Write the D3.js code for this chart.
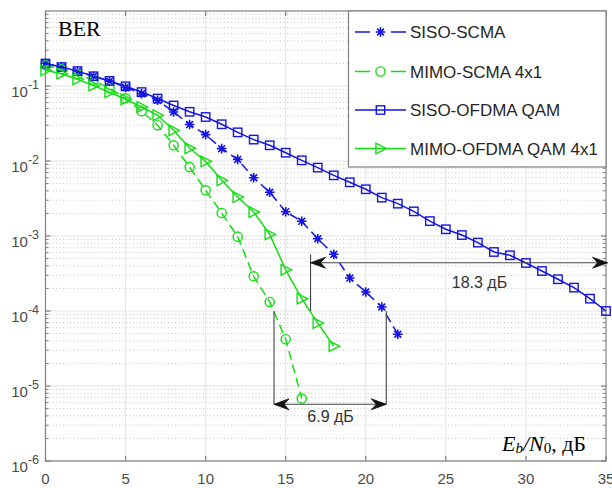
<!DOCTYPE html>
<html><head><meta charset="utf-8">
<script src="https://cdn.jsdelivr.net/npm/d3@7"></script>
<style>body{margin:0;background:#fff}svg{display:block}</style>
</head><body>
<svg id="c" width="612" height="488"></svg>
<script>
// ---------- data ----------
const snrSisoScma = [0,1,2,3,4,5,6,7,8,9,10,11,12,13,14,15,16,17,18,19,20,21,22];
const berSisoScma = [0.2,0.178,0.157,0.135,0.116,0.096,0.079,0.0645,0.045,0.0306,0.0225,0.0146,0.0105,0.00597,0.00383,0.00211,0.00157,0.000918,0.00057,0.000275,0.000179,0.000113,0.000049];

const snrMimoScma = [0,1,2,3,4,5,6,7,8,9,10,11,12,13,14,15,16];
const berMimoScma = [0.189,0.167,0.143,0.119,0.093,0.0686,0.046,0.030,0.0162,0.0083,0.00407,0.00203,0.00098,0.00029,0.000132,0.000042,0.0000068];

const snrSisoOfdma = [0,1,2,3,4,5,6,7,8,9,10,11,12,13,14,15,16,17,18,19,20,21,22,23,24,25,26,27,28,29,30,31,32,33,34,35];
const berSisoOfdma = [0.199,0.179,0.158,0.135,0.117,0.099,0.083,0.068,0.055,0.0453,0.0386,0.0309,0.0241,0.0193,0.0162,0.0129,0.0102,0.00817,0.00644,0.0052,0.0042,0.00325,0.0027,0.00213,0.00158,0.00123,0.00103,0.000817,0.000612,0.000553,0.000437,0.000341,0.000265,0.000205,0.000146,0.0001];

const snrMimoOfdma = [0,1,2,3,4,5,6,7,8,9,10,11,12,13,14,15,16,17,18];
const berMimoOfdma = [0.162,0.146,0.123,0.101,0.0824,0.0665,0.0525,0.0407,0.0257,0.0148,0.0099,0.00553,0.00331,0.00209,0.00105,0.000354,0.000146,0.000069,0.000034];

const seriesNames = ["SISO-SCMA","MIMO-SCMA 4x1","SISO-OFDMA QAM","MIMO-OFDMA QAM 4x1"];
const xTicks = [0,5,10,15,20,25,30,35];
const yTickExps = [-6,-5,-4,-3,-2,-1];
const xDomain = [0,35];
const yDomain = [1e-6,1];

// annotations (data coordinates)
const gap1 = {label:"18.3 дБ", x0:16.55, x1:35.1, y:4.4e-4, vx:16.55, vyTop:5.7e-4, vyBot:1e-4, lx:27.1, ly:2.0e-4};
const gap2 = {label:"6.9 дБ", x0:14.27, x1:21.28, y:5.7e-6, vyTop:1e-4, lx:17.8, ly:3.3e-6};

// ---------- layout ----------
const L=45.5, R=606, T=11, B=461;
const svg=d3.select("#c");
const x=d3.scaleLinear().domain(xDomain).range([L,R]);
const y=d3.scaleLog().domain(yDomain).range([B,T]);
const BLUE="#1414e6", GREEN="#10e010";
const tickFont="'Liberation Sans', Arial, sans-serif";

// grid
const g=svg.append("g");
const minorVals=[];
yTickExps.forEach(e=>{for(let k=2;k<=9;k++)minorVals.push(k*Math.pow(10,e));});
g.selectAll(".ymin").data(minorVals).join("line")
 .attr("x1",L).attr("x2",R).attr("y1",d=>y(d)).attr("y2",d=>y(d))
 .attr("stroke","#c8c8c8").attr("stroke-width",1).attr("stroke-dasharray","1,2.5");
g.selectAll(".ymaj").data(yTickExps).join("line")
 .attr("x1",L).attr("x2",R).attr("y1",d=>y(Math.pow(10,d))).attr("y2",d=>y(Math.pow(10,d)))
 .attr("stroke","#e3e3e3").attr("stroke-width",1);
g.selectAll(".xmaj").data(xTicks.slice(1,-1)).join("line")
 .attr("x1",d=>x(d)).attr("x2",d=>x(d)).attr("y1",T).attr("y2",B)
 .attr("stroke","#e3e3e3").attr("stroke-width",1);

// axes box & ticks
const ax=svg.append("g").attr("stroke","#808080").attr("stroke-width",1.2).attr("fill","none");
ax.append("rect").attr("x",L).attr("y",T).attr("width",R-L).attr("height",B-T);
xTicks.forEach(t=>{
  ax.append("line").attr("x1",x(t)).attr("x2",x(t)).attr("y1",B).attr("y2",B-5);
  ax.append("line").attr("x1",x(t)).attr("x2",x(t)).attr("y1",T).attr("y2",T+5);
});
yTickExps.forEach(e=>{
  const yy=y(Math.pow(10,e));
  ax.append("line").attr("x1",L).attr("x2",L+5).attr("y1",yy).attr("y2",yy);
  ax.append("line").attr("x1",R).attr("x2",R-5).attr("y1",yy).attr("y2",yy);
});
minorVals.forEach(v=>{
  const yy=y(v);
  ax.append("line").attr("x1",L).attr("x2",L+3).attr("y1",yy).attr("y2",yy).attr("stroke-width",1);
  ax.append("line").attr("x1",R).attr("x2",R-3).attr("y1",yy).attr("y2",yy).attr("stroke-width",1);
});

// tick labels
svg.selectAll(".xl").data(xTicks).join("text")
 .attr("x",d=>x(d)).attr("y",484).attr("text-anchor","middle")
 .attr("font-family",tickFont).attr("font-size",15).attr("fill","#4a4a4a").text(d=>d);
const yl=svg.selectAll(".yl").data(yTickExps).join("text")
 .attr("x",39).attr("y",d=>y(Math.pow(10,d))+10.5).attr("text-anchor","end")
 .attr("font-family",tickFont).attr("font-size",15).attr("fill","#4a4a4a");
yl.append("tspan").text("10");
yl.append("tspan").attr("dy",-7.5).attr("font-size",12.5).text(d=>"-"+(-d));

// markers
function drawMarker(sel,type,color){
  if(type==="star"){
    sel.append("path").attr("d","M0,-4.8L0,4.8M-4.8,0L4.8,0M-3.4,-3.4L3.4,3.4M-3.4,3.4L3.4,-3.4")
      .attr("stroke",color).attr("stroke-width",1.6).attr("fill","none");
  } else if(type==="circle"){
    sel.append("circle").attr("r",4.6).attr("stroke",color).attr("stroke-width",1.4).attr("fill","none");
  } else if(type==="square"){
    sel.append("rect").attr("x",-4.2).attr("y",-4.2).attr("width",8.4).attr("height",8.4)
      .attr("stroke",color).attr("stroke-width",1.4).attr("fill","none");
  } else {
    sel.append("path").attr("d","M5.8,0L-4.6,-5.3L-4.6,5.3Z")
      .attr("stroke",color).attr("stroke-width",1.4).attr("fill","none");
  }
}

const series=[
 {xs:snrSisoScma, ys:berSisoScma, color:BLUE, dash:"9,5", marker:"star"},
 {xs:snrMimoScma, ys:berMimoScma, color:GREEN, dash:"9,5", marker:"circle"},
 {xs:snrSisoOfdma, ys:berSisoOfdma, color:BLUE, dash:null, marker:"square"},
 {xs:snrMimoOfdma, ys:berMimoOfdma, color:GREEN, dash:null, marker:"tri"}
];
const line=d3.line().x(d=>x(d[0])).y(d=>y(d[1]));
series.forEach(s=>{
  const pts=s.xs.map((v,i)=>[v,s.ys[i]]);
  svg.append("path").attr("d",line(pts)).attr("fill","none").attr("stroke",s.color)
    .attr("stroke-width",1.5).attr("stroke-dasharray",s.dash);
  pts.forEach(p=>{
    const m=svg.append("g").attr("transform",`translate(${x(p[0])},${y(p[1])})`);
    drawMarker(m,s.marker,s.color);
  });
});

// annotations
function arrowHead(px,py,dir){
  const l=15, w=5.5, n=10;
  const d=`M${px},${py}L${px-dir*l},${py-w}L${px-dir*n},${py}L${px-dir*l},${py+w}Z`;
  svg.append("path").attr("d",d).attr("fill","#111").attr("stroke","#111").attr("stroke-width",0.8);
}
const an=svg.append("g").attr("stroke","#444").attr("stroke-width",1.1);
an.append("line").attr("x1",x(gap1.x0)).attr("x2",x(gap1.x1)).attr("y1",y(gap1.y)).attr("y2",y(gap1.y));
an.append("line").attr("x1",x(gap1.vx)).attr("x2",x(gap1.vx)).attr("y1",y(gap1.vyTop)).attr("y2",y(gap1.vyBot));
arrowHead(x(gap1.x0),y(gap1.y),-1);
arrowHead(x(gap1.x1),y(gap1.y),1);
an.append("line").attr("x1",x(gap2.x0)).attr("x2",x(gap2.x1)).attr("y1",y(gap2.y)).attr("y2",y(gap2.y));
an.append("line").attr("x1",x(gap2.x0)).attr("x2",x(gap2.x0)).attr("y1",y(gap2.vyTop)).attr("y2",y(gap2.y));
an.append("line").attr("x1",x(gap2.x1)).attr("x2",x(gap2.x1)).attr("y1",y(gap2.vyTop)).attr("y2",y(gap2.y));
arrowHead(x(gap2.x0),y(gap2.y),-1);
arrowHead(x(gap2.x1),y(gap2.y),1);
[gap1,gap2].forEach(a=>{
  svg.append("text").attr("x",x(a.lx)).attr("y",y(a.ly)).attr("text-anchor","middle")
   .attr("font-family",tickFont).attr("font-size",16).attr("fill","#333").text(a.label);
});

// legend
const lg=svg.append("g");
lg.append("rect").attr("x",348.5).attr("y",T).attr("width",R-348.5).attr("height",156)
 .attr("fill","#fff").attr("stroke","#808080").attr("stroke-width",1.2);
const rowY=[32,71.5,110,148.5];
series.forEach((s,i)=>{
  const yy=rowY[i];
  if(s.dash){
    lg.append("line").attr("x1",355).attr("x2",370).attr("y1",yy).attr("y2",yy).attr("stroke",s.color).attr("stroke-width",1.5);
    lg.append("line").attr("x1",391).attr("x2",406).attr("y1",yy).attr("y2",yy).attr("stroke",s.color).attr("stroke-width",1.5);
  } else {
    lg.append("line").attr("x1",355).attr("x2",406).attr("y1",yy).attr("y2",yy).attr("stroke",s.color).attr("stroke-width",1.5);
  }
  const m=lg.append("g").attr("transform",`translate(380.5,${yy})`);
  drawMarker(m,s.marker,s.color);
  lg.append("text").attr("x",410).attr("y",yy+6).attr("font-family",tickFont).attr("font-size",17)
   .attr("fill","#262626").text(seriesNames[i]);
});

// axis titles
svg.append("text").attr("x",58).attr("y",36).attr("font-family","'Liberation Serif','Times New Roman',serif")
 .attr("font-size",22).attr("fill","#000").text("BER");
const xt=svg.append("text").attr("x",586).attr("y",451).attr("text-anchor","end")
 .attr("font-family","'Liberation Serif','Times New Roman',serif").attr("font-size",22).attr("fill","#000");
xt.append("tspan").attr("font-style","italic").text("E");
xt.append("tspan").attr("font-style","italic").attr("font-size",15).attr("dy",2).text("b");
xt.append("tspan").attr("font-style","italic").attr("dy",-2).text("/N");
xt.append("tspan").attr("font-size",15).attr("dy",2).text("0");
xt.append("tspan").attr("dy",-2).text(", дБ");
</script>
</body></html>
